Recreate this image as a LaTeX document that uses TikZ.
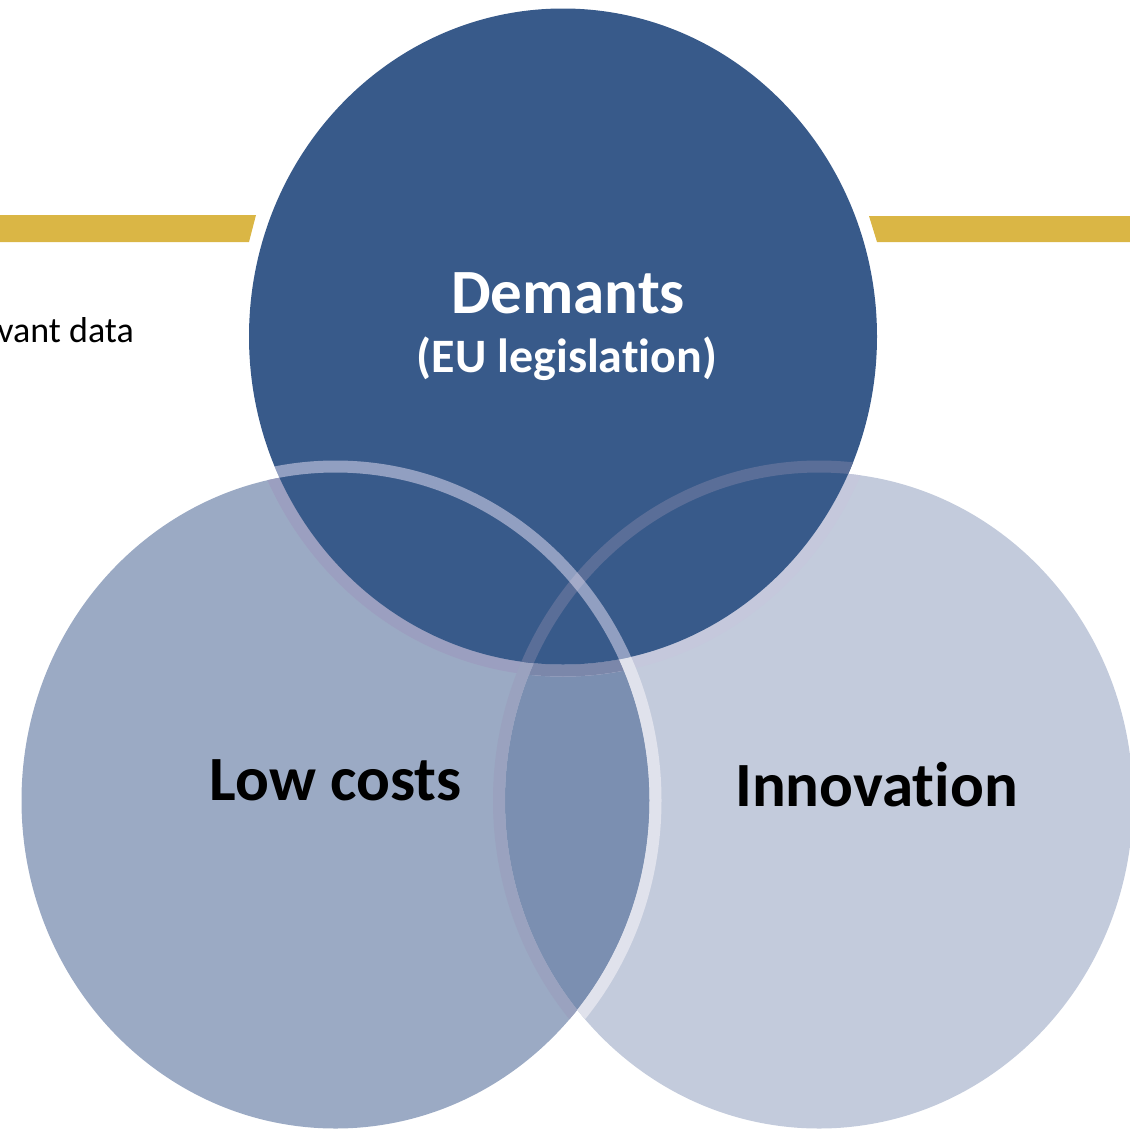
\documentclass[tikz,border=0pt]{standalone}
\usepackage{fontspec}
\setmainfont{Carlito}[Ligatures={NoCommon,NoContextual}]
\definecolor{topc}{HTML}{385A8A}
\definecolor{leftc}{HTML}{9BAAC4}
\definecolor{rightc}{HTML}{C3CBDC}
\definecolor{lrc}{HTML}{7B8FB1}
\definecolor{goldc}{HTML}{DAB645}
\definecolor{ringA}{HTML}{9B9FC0}
\definecolor{ringB}{HTML}{C5C8DC}
\definecolor{ringC}{HTML}{7B87AA}
\definecolor{ringD}{HTML}{9AA2BF}
\definecolor{ringE}{HTML}{E0E2EC}
\definecolor{ringF}{HTML}{5A6E98}
\definecolor{ringG}{HTML}{F6EEFF}
\tikzset{
  ring/.style={line width=12pt},
  big/.style={font=\bfseries\fontsize{63}{70}\selectfont, anchor=base, inner sep=0pt},
  small/.style={font=\bfseries\fontsize{48}{54}\selectfont, anchor=base, inner sep=0pt},
}
\begin{document}
\begin{tikzpicture}[x=1pt,y=-1pt]
\useasboundingbox (0,0) rectangle (1130,1130);
\clip (0,0) rectangle (1130,1130);
\coordinate (cT) at (563,336.5);
\coordinate (cL) at (335.5,800.5);
\coordinate (cR) at (819,800.5);
% gold bars
\fill[goldc] (0,215) -- (256,215) -- (249,242) -- (0,242) -- cycle;
\fill[goldc] (869,216) -- (1130,216) -- (1130,242) -- (877,242) -- cycle;
% lower circles
\fill[leftc] (cL) ellipse [x radius=314pt, y radius=328pt];
\fill[rightc] (cR) ellipse [x radius=314pt, y radius=328pt];
\begin{scope}
  \clip (cL) ellipse [x radius=314pt, y radius=328pt];
  \fill[lrc] (cR) ellipse [x radius=314pt, y radius=328pt];
\end{scope}
% top ring over lower circles
\begin{scope}
  \clip (cL) ellipse [x radius=314pt, y radius=328pt];
  \draw[ring, ringA] (cT) ellipse [x radius=320pt, y radius=334pt];
\end{scope}
\begin{scope}
  \clip (cR) ellipse [x radius=314pt, y radius=328pt];
  \draw[ring, ringB] (cT) ellipse [x radius=320pt, y radius=334pt];
\end{scope}
\begin{scope}
  \clip (cL) ellipse [x radius=314pt, y radius=328pt];
  \clip (cR) ellipse [x radius=314pt, y radius=328pt];
  \draw[ring, ringC] (cT) ellipse [x radius=320pt, y radius=334pt];
\end{scope}
% right ring over left circle
\begin{scope}
  \clip (cL) ellipse [x radius=314pt, y radius=328pt];
  \draw[ring, ringD] (cR) ellipse [x radius=320pt, y radius=334pt];
\end{scope}
% left ring over right circle
\begin{scope}
  \clip (cR) ellipse [x radius=314pt, y radius=328pt];
  \draw[ring, ringE] (cL) ellipse [x radius=320pt, y radius=334pt];
\end{scope}
% top circle
\fill[topc] (cT) ellipse [x radius=314pt, y radius=328pt];
\begin{scope}
  \clip (cT) ellipse [x radius=314pt, y radius=328pt];
  \draw[ring, ringF] (cR) ellipse [x radius=320pt, y radius=334pt];
  \draw[ring, ringG, opacity=0.47] (cL) ellipse [x radius=320pt, y radius=334pt];
\end{scope}
% texts
\node[big, white] (dem) at (568,313) {Demants};
\node[small, white] (eu) at (567,372) {(EU legislation)};
\node[big, black] (low) at (335.5,800) {Low costs};
\node[big, black] (inn) at (876.5,806) {Innovation};
\node[font=\fontsize{36}{42}\selectfont, anchor=base east, inner sep=0pt] (vd) at (134,342) {vant data};
\end{tikzpicture}
\end{document}
